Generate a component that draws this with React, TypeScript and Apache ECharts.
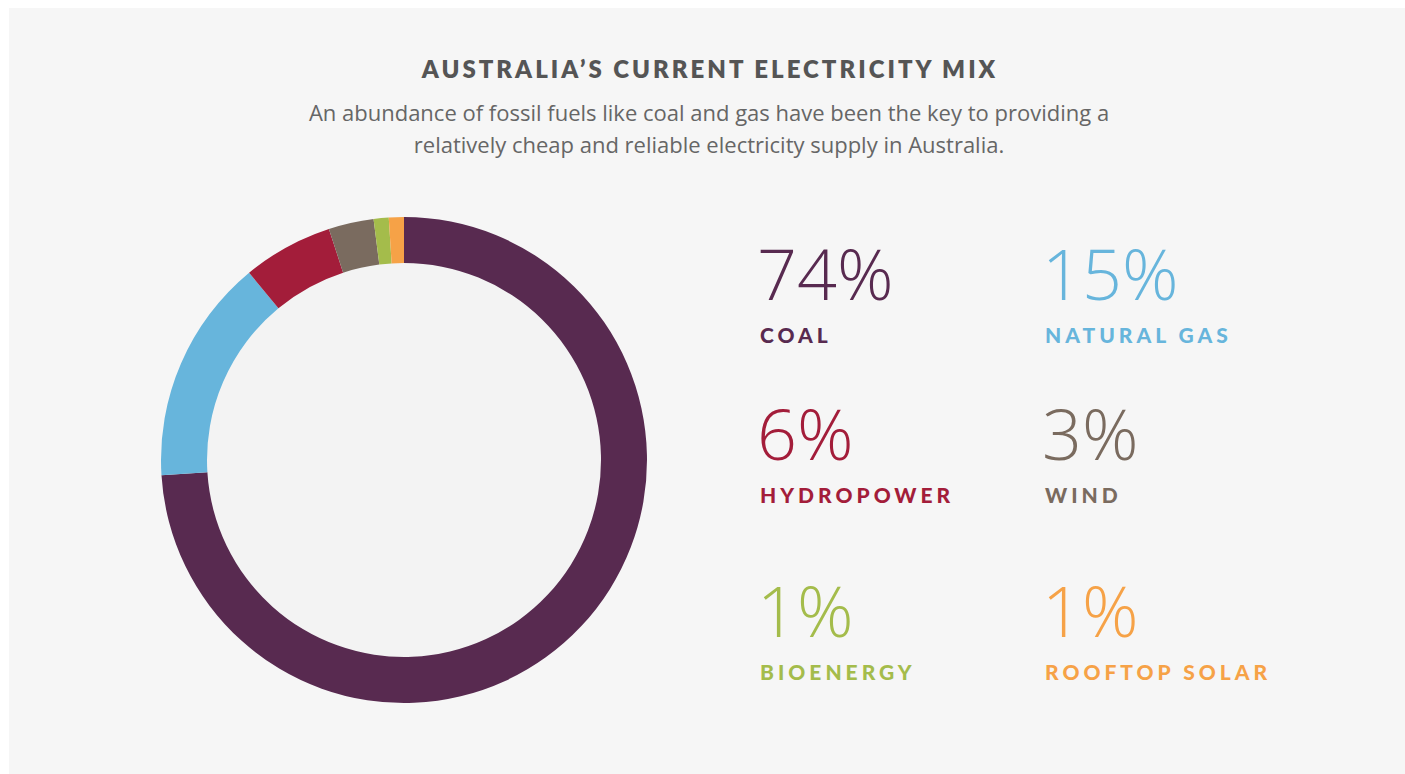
import React, { useEffect, useRef } from "react";
import * as echarts from "echarts";

const categories = ["COAL", "NATURAL GAS", "HYDROPOWER", "WIND", "BIOENERGY", "ROOFTOP SOLAR"];
const shares = [74, 15, 6, 3, 1, 1];
const colors = ["#582a50", "#67b5dc", "#a31d3a", "#7a6b5f", "#a4bc4b", "#f6a247"];

const titleText = "AUSTRALIA\u2019S CURRENT ELECTRICITY MIX";
const subtitleLines = [
  "An abundance of fossil fuels like coal and gas have been the key to providing a",
  "relatively cheap and reliable electricity supply in Australia.",
];

const css = `
#root svg text[style*="24px"] { letter-spacing: 3px; }
#root svg text[style*="21px"] { letter-spacing: 4px; }
`;

export default function App() {
  const ref = useRef<HTMLDivElement>(null);
  useEffect(() => {
    if (!ref.current) return;
    const chart = echarts.init(ref.current, null, { renderer: "svg" });

    const colX = [760, 1045];
    const rowY = [248, 408, 585];
    const legendEls: any[] = [];
    categories.forEach((c, i) => {
      const x = colX[i % 2];
      const y = rowY[Math.floor(i / 2)];
      legendEls.push({
        type: "text",
        x: x - 3,
        y: y - 10,
        style: {
          text: shares[i] + "%",
          fill: colors[i],
          font: '300 70px "Open Sans", Lato, sans-serif',
          align: "left",
          verticalAlign: "top",
        },
      });
      legendEls.push({
        type: "text",
        x: x,
        y: y + 76,
        style: {
          text: c,
          fill: colors[i],
          font: '900 21px Lato, "Open Sans", sans-serif',
          align: "left",
          verticalAlign: "top",
        },
      });
    });

    chart.setOption({
      animation: false,
      backgroundColor: "#ffffff",
      graphic: [
        {
          type: "rect",
          shape: { x: 9, y: 8, width: 1396, height: 766 },
          style: { fill: "#f6f6f6" },
          z: -10,
        },
        {
          type: "text",
          x: 710,
          y: 56,
          style: {
            text: titleText,
            fill: "#555555",
            font: '800 24px Lato, "Open Sans", sans-serif',
            align: "center",
            verticalAlign: "top",
          },
        },
        ...subtitleLines.map((line, i) => ({
          type: "text",
          x: 709,
          y: 112 + i * 32,
          style: {
            text: line,
            fill: "#666666",
            font: '400 22px "Open Sans", sans-serif',
            align: "center",
            verticalAlign: "middle",
          },
        })),
        ...legendEls,
      ],
      series: [
        {
          type: "pie",
          silent: true,
          center: [404, 460],
          radius: [0, 197],
          label: { show: false },
          labelLine: { show: false },
          data: [{ value: 1, itemStyle: { color: "#f3f3f3" } }],
          z: 1,
        },
        {
          type: "pie",
          center: [404, 460],
          radius: [197, 243],
          startAngle: 90,
          clockwise: true,
          label: { show: false },
          labelLine: { show: false },
          itemStyle: { borderWidth: 0 },
          data: categories.map((c, i) => ({
            name: c,
            value: shares[i],
            itemStyle: { color: colors[i] },
          })),
          z: 2,
        },
      ],
    });
    return () => chart.dispose();
  }, []);
  return (
    <>
      <style>{css}</style>
      <div
        ref={ref}
        style={{ position: "fixed", left: 0, top: 0, width: 1405, height: 774 }}
      />
    </>
  );
}
